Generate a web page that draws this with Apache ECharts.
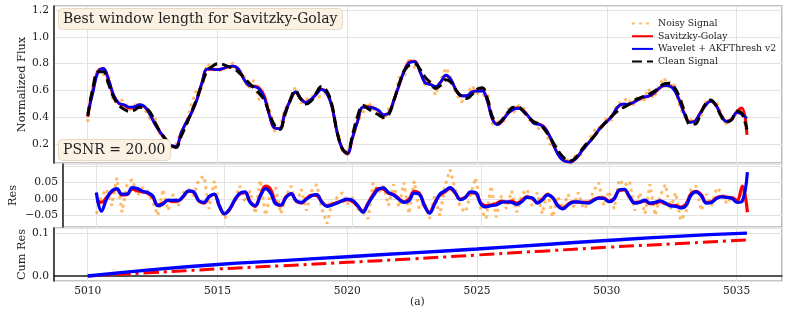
<!DOCTYPE html>
<html>
<head>
<meta charset="utf-8">
<script src="https://cdn.jsdelivr.net/npm/echarts@6/dist/echarts.min.js"></script>
<style>
  html, body { margin: 0; padding: 0; background: #fff; }
  #main { width: 789px; height: 327px; }
</style>
</head>
<body>
<div id="main"></div>
<script>
// samples every 0.2 day starting at 5010.0
const tStart = 5010.0
const tStep = 0.2

// clean light curve (one row per day)
const cleanSignal = [
  0.41, 0.62, 0.74, 0.74, 0.65,
  0.55, 0.49, 0.46, 0.445, 0.455,
  0.475, 0.47, 0.44, 0.36, 0.29,
  0.24, 0.195, 0.175, 0.26, 0.345,
  0.44, 0.54, 0.65, 0.745, 0.78,
  0.80, 0.795, 0.78, 0.765, 0.74,
  0.70, 0.66, 0.62, 0.58, 0.53,
  0.43, 0.34, 0.31, 0.42, 0.53,
  0.60, 0.54, 0.50, 0.52, 0.58,
  0.63, 0.60, 0.50, 0.30, 0.17,
  0.135, 0.27, 0.41, 0.49, 0.465,
  0.44, 0.42, 0.40, 0.42, 0.53,
  0.65, 0.75, 0.79, 0.80, 0.76,
  0.70, 0.66, 0.615, 0.64, 0.68,
  0.66, 0.60, 0.555, 0.54, 0.57,
  0.61, 0.62, 0.54, 0.40, 0.355,
  0.39, 0.44, 0.475, 0.475, 0.44,
  0.40, 0.365, 0.35, 0.31, 0.255,
  0.19, 0.13, 0.09, 0.076, 0.10,
  0.15, 0.20, 0.235, 0.28, 0.33,
  0.375, 0.41, 0.445, 0.47, 0.49,
  0.52, 0.54, 0.555, 0.57, 0.59,
  0.62, 0.65, 0.655, 0.625, 0.55,
  0.44, 0.35, 0.35, 0.42, 0.50,
  0.53, 0.49, 0.41, 0.365, 0.38,
  0.445, 0.43, 0.31
]

// residuals against the clean curve
const sgRes = [
  -0.005, -0.010, 0.005, 0.022, 0.030,
  0.012, 0.014, 0.030, 0.026, 0.022,
  0.018, 0.006, -0.018, -0.012, -0.004,
  -0.008, -0.006, 0.008, 0.024, 0.020,
  -0.006, -0.012, 0.006, 0.014, -0.022,
  -0.044, -0.032, -0.004, 0.016, 0.020,
  -0.008, -0.022, 0.012, 0.040, 0.030,
  -0.010, -0.020, 0.008, 0.015, -0.006,
  -0.012, 0.002, 0.012, 0.010, -0.008,
  -0.020, -0.016, -0.010, -0.006, -0.002,
  -0.008, -0.022, -0.036, -0.012, 0.014,
  0.032, 0.030, 0.018, 0.014, 0.002,
  -0.008, 0.000, 0.024, 0.018, -0.018,
  -0.040, -0.012, 0.012, 0.022, 0.032,
  0.018, 0.000, 0.006, 0.020, 0.018,
  -0.012, -0.020, -0.018, -0.014, -0.006,
  -0.010, -0.006, -0.012, -0.004, 0.008,
  0.002, -0.010, 0.000, 0.014, 0.004,
  -0.018, -0.028, -0.016, -0.008, -0.010,
  -0.009, -0.010, -0.002, 0.004, 0.004,
  -0.006, 0.002, 0.026, 0.028, 0.006,
  -0.010, -0.008, -0.006, -0.014, -0.012,
  -0.008, -0.014, -0.018, -0.020, -0.024,
  -0.016, 0.016, 0.024, 0.014, -0.010,
  -0.008, 0.004, 0.008, 0.006, 0.004,
  -0.004, 0.040, -0.040
]

const waveletRes = [
  0.020, -0.037, 0.000, 0.025, 0.032,
  0.015, 0.015, 0.035, 0.032, 0.024,
  0.020, 0.010, -0.020, -0.015, -0.003,
  -0.004, -0.004, 0.010, 0.025, 0.022,
  -0.005, -0.010, 0.008, 0.015, -0.020,
  -0.045, -0.030, -0.002, 0.018, 0.022,
  -0.010, -0.020, 0.010, 0.032, 0.018,
  -0.015, -0.018, 0.005, 0.017, -0.005,
  -0.010, 0.000, 0.010, 0.014, -0.010,
  -0.022, -0.018, -0.012, -0.004, 0.000,
  -0.004, -0.020, -0.040, -0.015, 0.010,
  0.030, 0.034, 0.020, 0.012, 0.000,
  -0.010, -0.005, 0.018, 0.015, -0.020,
  -0.043, -0.015, 0.015, 0.025, 0.035,
  0.020, -0.002, 0.005, 0.022, 0.020,
  -0.015, -0.024, -0.020, -0.018, -0.010,
  -0.008, -0.010, -0.016, -0.008, 0.005,
  0.004, -0.012, -0.003, 0.013, 0.005,
  -0.020, -0.030, -0.018, -0.009, -0.008,
  -0.011, -0.012, -0.004, 0.003, 0.002,
  -0.008, 0.000, 0.028, 0.030, 0.008,
  -0.012, -0.010, -0.003, -0.012, -0.010,
  -0.005, -0.012, -0.021, -0.022, -0.027,
  -0.020, 0.012, 0.022, 0.010, -0.012,
  -0.010, 0.002, 0.007, 0.005, 0.002,
  -0.010, -0.006, 0.082
]

const noisyRes = [
  -0.045, 0.010, 0.030, -0.020, 0.065,
  -0.040, 0.045, 0.060, 0.010, 0.035,
  0.025, -0.010, -0.050, 0.030, -0.035,
  0.015, -0.020, 0.020, 0.030, 0.010,
  0.060, 0.070, -0.030, 0.055, -0.015,
  -0.060, -0.035, 0.000, 0.040, -0.010,
  0.025, -0.045, 0.058, -0.050, 0.020,
  0.035, -0.045, 0.010, 0.040, -0.015,
  0.030, -0.035, 0.025, 0.045, -0.030,
  -0.075, -0.010, 0.005, 0.020, -0.015,
  0.005, -0.030, -0.040, -0.060, 0.050,
  0.020, 0.040, -0.020, 0.045, -0.025,
  0.050, -0.045, 0.055, -0.030, -0.010,
  -0.060, 0.010, -0.050, 0.040, 0.090,
  0.030, -0.025, -0.040, 0.015, 0.065,
  -0.030, -0.060, 0.040, -0.055, 0.010,
  -0.030, 0.025, -0.040, 0.015, 0.030,
  -0.020, 0.020, -0.045, 0.025, -0.055,
  0.010, -0.030, 0.015, -0.025, 0.020,
  -0.030, -0.015, 0.025, 0.050, -0.020,
  0.025, -0.030, 0.060, 0.040, 0.055,
  -0.035, 0.020, -0.045, 0.045, -0.050,
  0.010, 0.045, -0.030, 0.020, -0.065,
  -0.040, 0.030, 0.040, -0.035, 0.015,
  -0.020, 0.035, 0.020, -0.015, 0.010,
  -0.010, 0.025, -0.020
]

// cumulative residuals
const cumT = [5010, 5012.5, 5015, 5017.5, 5020, 5022.5, 5025, 5027.5, 5030, 5032.5, 5035.4]
const cumWavelet = [0, 0.015, 0.027, 0.036, 0.045, 0.054, 0.063, 0.073, 0.083, 0.092, 0.100]
const cumSG = [0, 0.008, 0.0165, 0.024, 0.032, 0.040, 0.049, 0.058, 0.067, 0.075, 0.084]

const xMin = 5008.7
const xMax = 5036.75

const times = cleanSignal.map((_, i) => +(tStart + i * tStep).toFixed(1))
const pair = (arr) => arr.map((v, i) => [times[i], v])
const plus = (res) => res.map((v, i) => [times[i], +(cleanSignal[i] + v).toFixed(4)])

const FONT = 'DejaVu Serif'
const ORANGE = 'rgba(255,140,0,0.6)'
const RED = '#ff0000'
const BLUE = '#0000ff'

const myChart = echarts.init(document.getElementById('main'))

const gridBox = { show: true, borderColor: '#8a8a8a', borderWidth: 1.2, backgroundColor: 'transparent' }
const splitLine = { show: true, lineStyle: { color: '#e3e3e3', width: 1 } }

function xAxisFor (idx, showLabel) {
  return {
    type: 'value',
    gridIndex: idx,
    min: xMin,
    max: xMax,
    minInterval: 5,
    maxInterval: 5,
    axisLine: { show: showLabel, lineStyle: { color: '#222', width: 1.5 } },
    axisTick: { show: false },
    splitLine: splitLine,
    axisLabel: {
      show: showLabel,
      showMinLabel: false,
      showMaxLabel: false,
      fontFamily: FONT,
      fontSize: 10.7,
      color: '#222',
      margin: 5,
      formatter: (v) => String(Math.round(v))
    }
  }
}

function yAxisFor (idx, opts) {
  return {
    type: 'value',
    gridIndex: idx,
    min: opts.min,
    max: opts.max,
    minInterval: opts.step,
    maxInterval: opts.step,
    name: opts.name,
    nameLocation: 'middle',
    nameGap: opts.gap,
    nameMoveOverlap: false,
    nameTextStyle: { fontFamily: FONT, fontSize: 11.3, color: '#222' },
    axisLine: { show: true, lineStyle: { color: '#222', width: 1.5 } },
    axisTick: { show: false },
    splitLine: splitLine,
    axisLabel: {
      showMinLabel: false,
      showMaxLabel: false,
      fontFamily: FONT,
      fontSize: 10.7,
      color: '#222',
      margin: 5,
      formatter: opts.fmt
    }
  }
}

const option = {
  animation: false,
  backgroundColor: '#fff',
  title: [
    {
      text: 'Best window length for Savitzky-Golay',
      left: 58,
      top: 8,
      padding: [4, 5, 4, 5],
      backgroundColor: '#fcf2e4',
      borderColor: '#e6d9c6',
      borderWidth: 1,
      borderRadius: 4,
      textStyle: { fontFamily: FONT, fontSize: 14, fontWeight: 'normal', color: '#222' }
    },
    {
      text: 'PSNR = 20.00',
      left: 58,
      top: 139,
      padding: [4, 5, 4, 5],
      backgroundColor: '#fcf2e4',
      borderColor: '#e6d9c6',
      borderWidth: 1,
      borderRadius: 4,
      textStyle: { fontFamily: FONT, fontSize: 14, fontWeight: 'normal', color: '#222' }
    }
  ],
  legend: {
    data: ['Noisy Signal', 'Savitzky-Golay', 'Wavelet + AKFThresh v2', 'Clean Signal'],
    orient: 'vertical',
    left: 626,
    top: 14,
    itemWidth: 21,
    itemHeight: 10,
    itemGap: 3.7,
    itemStyle: { opacity: 0 },
    textStyle: { fontFamily: FONT, fontSize: 9.3, color: '#222' }
  },
  graphic: [
    {
      type: 'text',
      left: 410,
      top: 297,
      style: { text: '(a)', font: '10.7px "DejaVu Serif"', fill: '#222' }
    }
  ],
  grid: [
    Object.assign({ left: 54, right: 7, top: 6, height: 157 }, gridBox),
    Object.assign({ left: 54, right: 7, top: 164, height: 63 }, gridBox),
    Object.assign({ left: 54, right: 7, top: 228, height: 53 }, gridBox)
  ],
  xAxis: [xAxisFor(0, false), xAxisFor(1, false), xAxisFor(2, true)],
  yAxis: [
    yAxisFor(0, { min: 0.06, max: 1.23, step: 0.2, name: 'Normalized Flux', gap: 26, fmt: (v) => v.toFixed(1) }),
    yAxisFor(1, {
      min: -0.085, max: 0.107, step: 0.05, name: 'Res', gap: 44,
      fmt: (v) => (Math.abs(v) > 0.08 ? '' : (v < -1e-9 ? '\u2212' : '') + Math.abs(v).toFixed(2))
    }),
    yAxisFor(2, { min: -0.0116, max: 0.112, step: 0.1, name: 'Cum Res', gap: 26, fmt: (v) => v.toFixed(1) })
  ],
  series: [
    // top panel
    {
      name: 'Noisy Signal', type: 'line', xAxisIndex: 0, yAxisIndex: 0,
      data: plus(noisyRes), symbol: 'none',
      lineStyle: { color: ORANGE, width: 3, type: [3, 4] }, itemStyle: { color: ORANGE }
    },
    {
      name: 'Savitzky-Golay', type: 'line', xAxisIndex: 0, yAxisIndex: 0,
      data: plus(sgRes), symbol: 'none', smooth: 0.4,
      lineStyle: { color: RED, width: 3 }, itemStyle: { color: RED }
    },
    {
      name: 'Wavelet + AKFThresh v2', type: 'line', xAxisIndex: 0, yAxisIndex: 0,
      data: plus(waveletRes), symbol: 'none', smooth: 0.4,
      lineStyle: { color: BLUE, width: 2.6 }, itemStyle: { color: BLUE }
    },
    {
      name: 'Clean Signal', type: 'line', xAxisIndex: 0, yAxisIndex: 0,
      data: pair(cleanSignal), symbol: 'none', smooth: 0.4,
      lineStyle: { color: '#000', width: 3, type: [10, 5] }, itemStyle: { color: '#000' }
    },
    // residual panel
    {
      name: 'Noisy Signal', type: 'line', xAxisIndex: 1, yAxisIndex: 1,
      data: pair(noisyRes), symbol: 'none',
      lineStyle: { color: ORANGE, width: 3, type: [3, 4] }
    },
    {
      name: 'Savitzky-Golay', type: 'line', xAxisIndex: 1, yAxisIndex: 1,
      data: pair(sgRes), symbol: 'none', smooth: 0.4,
      lineStyle: { color: RED, width: 3.2 }
    },
    {
      name: 'Wavelet + AKFThresh v2', type: 'line', xAxisIndex: 1, yAxisIndex: 1,
      data: pair(waveletRes), symbol: 'none', smooth: 0.4,
      lineStyle: { color: BLUE, width: 3.2 }
    },
    // cumulative panel
    {
      name: 'Savitzky-Golay', type: 'line', xAxisIndex: 2, yAxisIndex: 2,
      data: cumT.map((t, i) => [t, cumSG[i]]), symbol: 'none', smooth: true,
      lineStyle: { color: RED, width: 3, type: [15, 5, 3, 5] }
    },
    {
      name: 'Wavelet + AKFThresh v2', type: 'line', xAxisIndex: 2, yAxisIndex: 2,
      data: cumT.map((t, i) => [t, cumWavelet[i]]), symbol: 'none', smooth: true,
      lineStyle: { color: BLUE, width: 3.4 }
    }
  ]
}

myChart.setOption(option)
</script>
</body>
</html>
